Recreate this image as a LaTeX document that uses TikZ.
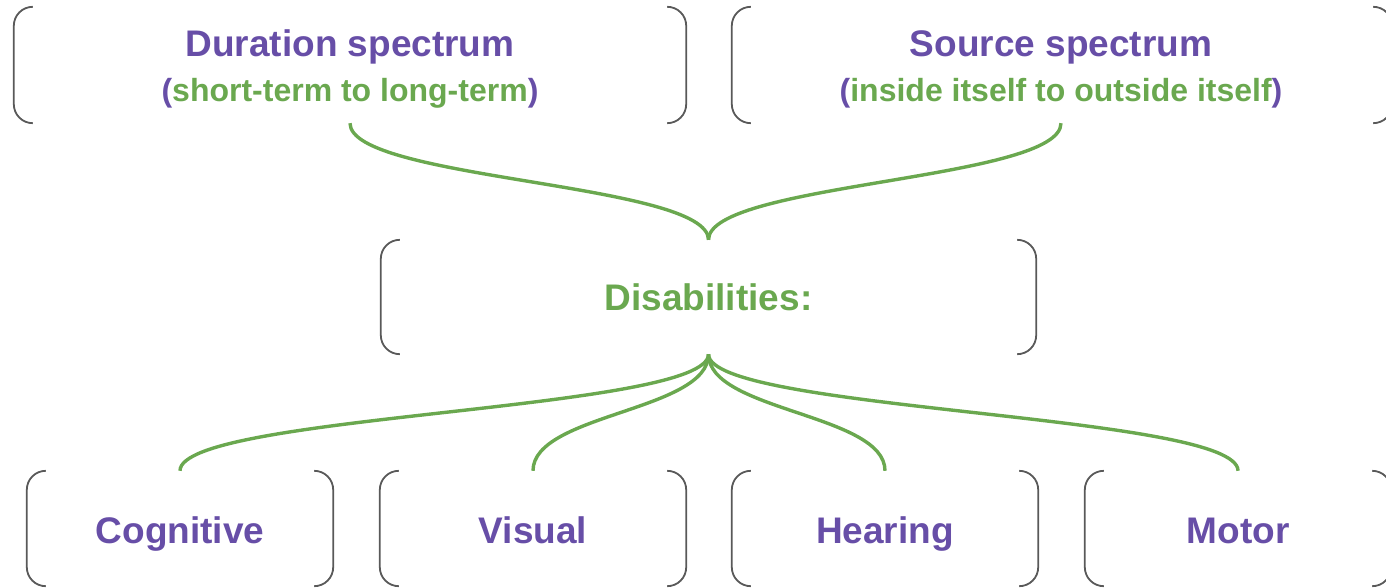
\documentclass[tikz,border=0pt]{standalone}
\usepackage{fontspec}
\setmainfont{Liberation Sans}
\definecolor{pur}{HTML}{674EA7}
\definecolor{grn}{HTML}{6AA84F}
\definecolor{brk}{HTML}{595959}
\tikzset{
  box/.style={draw=none, inner sep=0, minimum width=#1, minimum height=115},
  brackets/.style={draw=brk, line width=1.8pt, rounded corners=19},
  conn/.style={draw=grn, line width=3.4pt},
  title/.style={anchor=base, inner sep=0, text=pur, font=\bfseries\fontsize{37}{44}\selectfont},
  subt/.style={anchor=base, inner sep=0, text=grn, font=\bfseries\fontsize{32}{38}\selectfont},
  lab/.style={anchor=base, inner sep=0, font=\bfseries\fontsize{37}{44}\selectfont},
}
\newcommand{\brk}[1]{%
  \draw[brackets] ([xshift=19pt]#1.north west) -- (#1.north west) -- (#1.south west) -- ([xshift=19pt]#1.south west);
  \draw[brackets] ([xshift=-19pt]#1.north east) -- (#1.north east) -- (#1.south east) -- ([xshift=-19pt]#1.south east);}
\begin{document}
\begin{tikzpicture}[x=1pt,y=-1pt]
\useasboundingbox (0,0) rectangle (1386,588);
% boxes
\node[box=672, minimum height=116] (dur) at (350,65) {};
\node[box=660, minimum height=116] (src) at (1062,65) {};
\node[box=655, minimum height=114] (dis) at (708.5,297) {};
\node[box=306] (cog) at (180,528.5) {};
\node[box=306] (vis) at (533,528.5) {};
\node[box=306] (hea) at (885,528.5) {};
\node[box=306] (mot) at (1238,528.5) {};
\foreach \n in {dur,src,dis,cog,vis,hea,mot} {\brk{\n}}
% texts
\node[title] (durt) at (350,57) {Duration spectrum};
\node[subt] (durs) at (350,102) {\textcolor{pur}{(}short-term to long-term\textcolor{pur}{)}};
\node[title] (srct) at (1061,57) {Source spectrum};
\node[subt] (srcs) at (1061,102) {\textcolor{pur}{(}inside itself to outside itself\textcolor{pur}{)}};
\node[lab, text=grn] (dist) at (708.5,310) {Disabilities:};
\node[lab, text=pur] (cogt) at (180,543) {Cognitive};
\node[lab, text=pur] (vist) at (533,543) {Visual};
\node[lab, text=pur] (heat) at (885,543) {Hearing};
\node[lab, text=pur] (mott) at (1238,543) {Motor};
% connectors
\draw[conn] (dur.south) .. controls +(0,57) and +(0,-57) .. (dis.north);
\draw[conn] (src.south -| srct) .. controls +(0,57) and +(0,-57) .. (dis.north);
\foreach \n in {cog,vis,hea,mot} {
  \draw[conn] (dis.south) .. controls +(0,57) and +(0,-57) .. (\n.north);
}
\end{tikzpicture}
\end{document}
